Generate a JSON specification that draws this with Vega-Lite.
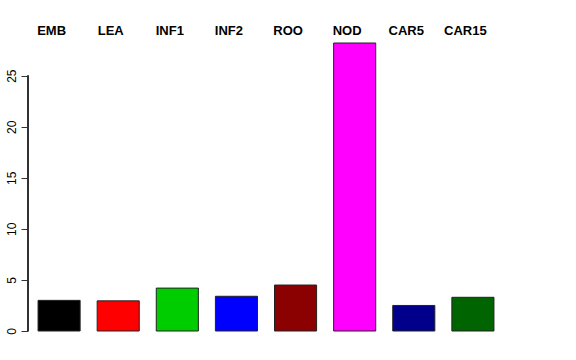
{
  "$schema": "https://vega.github.io/schema/vega-lite/v6.json",
  "autosize": "none",
  "width": 476,
  "height": 288,
  "padding": {"left": 28, "top": 43, "right": 72, "bottom": 29},
  "background": "white",
  "config": {"view": {"stroke": null}, "font": "Liberation Sans"},
  "data": {
    "values": [
      {"tissue": "EMB", "value": 3.0, "color": "#000000"},
      {"tissue": "LEA", "value": 2.95, "color": "#FF0000"},
      {"tissue": "INF1", "value": 4.2, "color": "#00CD00"},
      {"tissue": "INF2", "value": 3.4, "color": "#0000FF"},
      {"tissue": "ROO", "value": 4.5, "color": "#8B0000"},
      {"tissue": "NOD", "value": 28.2, "color": "#FF00FF"},
      {"tissue": "CAR5", "value": 2.5, "color": "#00008B"},
      {"tissue": "CAR15", "value": 3.3, "color": "#006400"}
    ]
  },
  "layer": [
    {
      "mark": {"type": "bar", "stroke": "#222222", "strokeWidth": 1},
      "encoding": {
        "x": {
          "field": "tissue", "type": "nominal", "sort": null,
          "scale": {"paddingInner": 0.288, "paddingOuter": 0.17},
          "axis": {
            "orient": "top", "title": null, "domain": false, "ticks": false, "tickSize": 0,
            "labelAngle": 0, "labelFont": "Liberation Sans", "labelFontWeight": "bold",
            "labelFontSize": 13, "labelColor": "#000000", "labelPadding": 9,
            "labelBaseline": "alphabetic", "labelOffset": -7.5
          }
        },
        "y": {
          "field": "value", "type": "quantitative",
          "scale": {"domain": [0, 28.2], "nice": false, "zero": true},
          "axis": {
            "title": null, "domain": false, "values": [0, 5, 10, 15, 20, 25],
            "grid": false, "tickSize": 7, "tickColor": "#333333", "labelAngle": -90,
            "labelFont": "Liberation Sans", "labelFontSize": 12, "labelColor": "#000000",
            "labelPadding": 6, "labelBaseline": "alphabetic", "labelAlign": "center"
          }
        },
        "color": {"field": "color", "type": "nominal", "scale": null, "legend": null}
      }
    },
    {
      "mark": {"type": "rule", "color": "#333333", "strokeWidth": 1},
      "encoding": {
        "x": {"value": 0},
        "y": {"datum": 0, "type": "quantitative"},
        "y2": {"datum": 25}
      }
    }
  ]
}
